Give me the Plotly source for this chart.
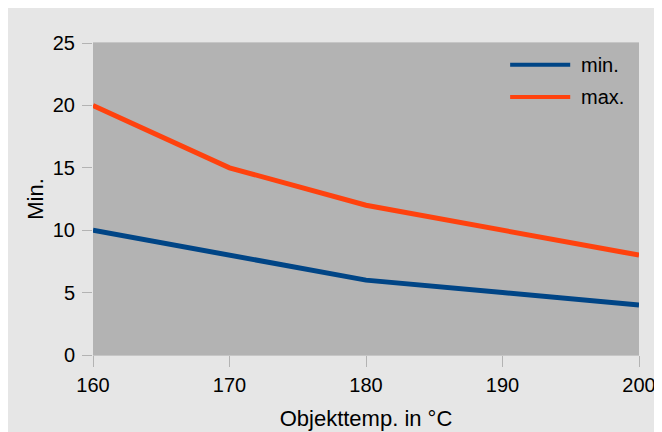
import plotly.graph_objects as go

temps = [160, 170, 180, 190, 200]
min_vals = [10, 8, 6, 5, 4]
max_vals = [20, 15, 12, 10, 8]
series_names = ["min.", "max."]
series_colors = ["#004586", "#ff420e"]
y_ticks = [0, 5, 10, 15, 20, 25]

W, H = 662, 432
L, R, T, B = 85, 31, 35, 85

fig = go.Figure()
for name, vals, col in zip(series_names, [min_vals, max_vals], series_colors):
    fig.add_trace(go.Scatter(x=temps, y=vals, mode="lines", name=name,
                             line=dict(color=col, width=5), showlegend=False))

# custom legend (styling only)
leg_y = [0.93, 0.827]
for name, col, yy in zip(series_names, series_colors, leg_y):
    fig.add_shape(type="line", xref="paper", yref="paper", x0=0.764, x1=0.874,
                  y0=yy, y1=yy, line=dict(color=col, width=4))
    fig.add_annotation(xref="paper", yref="paper", x=0.89, y=yy, text=name,
                       showarrow=False, xanchor="left", yanchor="middle",
                       font=dict(size=20, color="black"))

font = "Liberation Sans, Arial, sans-serif"
fig.update_layout(
    width=W, height=H,
    margin=dict(l=L, r=R, t=T, b=B),
    paper_bgcolor="#e6e6e6",
    plot_bgcolor="#b3b3b3",
    font=dict(family=font, size=20, color="black"),
    showlegend=False,
    xaxis=dict(range=[160, 200], tickvals=temps, showgrid=False, zeroline=False,
               ticks="outside", ticklen=11, tickcolor="#b3b3b3", tickwidth=1,
               showline=True, linecolor="#c6c6c6", linewidth=1, mirror=True,
               ticklabelstandoff=1,
               title=dict(text="Objekttemp. in °C", font=dict(size=22), standoff=15)),
    yaxis=dict(range=[0, 25], tickvals=y_ticks, showgrid=False, zeroline=False,
               ticks="outside", ticklen=10, tickcolor="#b3b3b3", tickwidth=1,
               showline=False, ticklabelstandoff=3,
               title=dict(text="Min.", font=dict(size=22), standoff=3)),
)

fig.write_html("out.html")
